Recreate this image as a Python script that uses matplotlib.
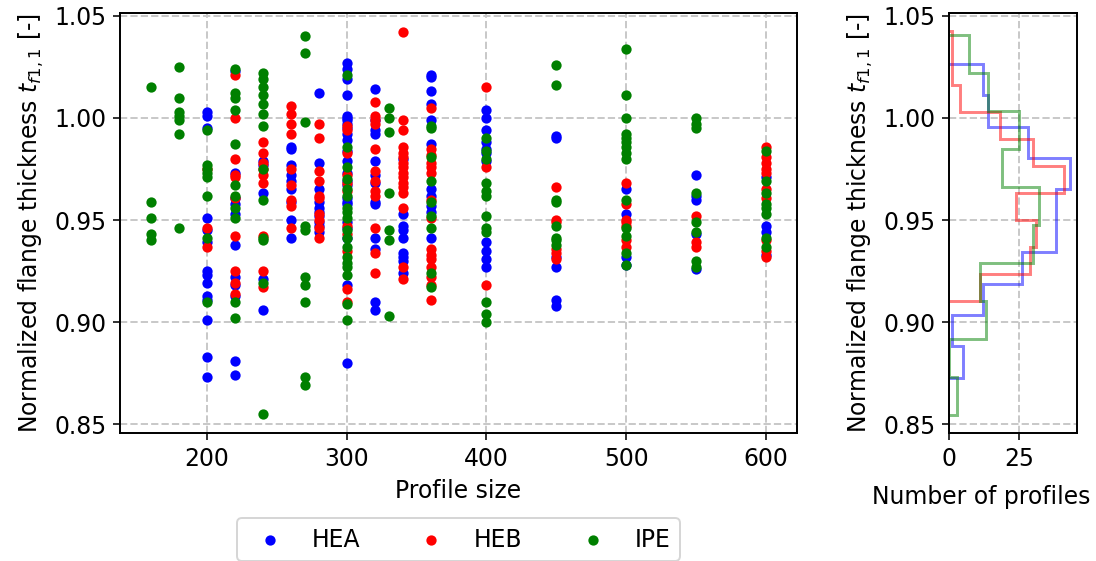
import numpy as np
import matplotlib
matplotlib.use('Agg')
import matplotlib.pyplot as plt

# profile sizes per series
hea_sizes = [200, 220, 240, 260, 280, 300, 320, 340, 360, 400, 450, 500, 550, 600]
heb_sizes = [200, 220, 240, 260, 280, 300, 320, 340, 360, 400, 450, 500, 550, 600]
ipe_sizes = [160, 180, 200, 220, 240, 270, 300, 330, 360, 400, 450, 500, 550, 600]

# normalized flange thickness, one list per profile size
hea_t = [
    [1.003, 1.001, 0.995, 0.951, 0.945, 0.939, 0.925, 0.923, 0.919, 0.913, 0.911, 0.901, 0.883, 0.873],
    [1.023, 0.973, 0.961, 0.958, 0.953, 0.938, 0.922, 0.918, 0.913, 0.881, 0.874],
    [0.979, 0.977, 0.963, 0.921, 0.906],
    [0.986, 0.985, 0.977, 0.972, 0.969, 0.965, 0.959, 0.950, 0.941],
    [1.012, 0.978, 0.965, 0.959, 0.956, 0.954, 0.952, 0.949, 0.947, 0.944],
    [1.027, 1.024, 1.019, 1.011, 1.001, 1.000, 0.999, 0.997, 0.995, 0.992, 0.989, 0.984, 0.979,
     0.973, 0.969, 0.967, 0.961, 0.959, 0.958, 0.949, 0.946, 0.941, 0.918, 0.880],
    [1.014, 0.999, 0.994, 0.992, 0.979, 0.972, 0.968, 0.959, 0.958, 0.941, 0.936, 0.910, 0.906],
    [0.980, 0.953, 0.947, 0.945, 0.941, 0.934, 0.932, 0.930, 0.924],
    [1.021, 1.020, 1.013, 1.007, 0.999, 0.987, 0.965, 0.962, 0.957, 0.954, 0.941],
    [1.004, 1.000, 0.994, 0.988, 0.985, 0.983, 0.979, 0.939, 0.935, 0.931, 0.927],
    [0.991, 0.990, 0.932, 0.927, 0.911, 0.908],
    [0.965, 0.953, 0.932, 0.928],
    [0.972, 0.962, 0.960, 0.943, 0.926],
    [0.971, 0.947, 0.944, 0.933],
]
heb_t = [
    [0.975, 0.946, 0.937],
    [1.021, 1.000, 0.980, 0.972, 0.971, 0.961, 0.942, 0.925, 0.919, 0.914],
    [0.988, 0.983, 0.978, 0.975, 0.972, 0.968, 0.942, 0.925, 0.917],
    [1.006, 1.002, 0.997, 0.992, 0.975, 0.967, 0.960, 0.957, 0.946],
    [0.997, 0.990, 0.974, 0.969, 0.962, 0.961, 0.953, 0.950, 0.946, 0.941],
    [0.996, 0.994, 0.983, 0.972, 0.968, 0.964, 0.947, 0.943, 0.935, 0.916, 0.910],
    [1.008, 1.001, 0.999, 0.997, 0.985, 0.974, 0.969, 0.964, 0.962, 0.946, 0.934, 0.924],
    [1.042, 0.999, 0.994, 0.986, 0.983, 0.981, 0.978, 0.976, 0.973, 0.971, 0.968, 0.966, 0.963,
     0.956, 0.927, 0.921],
    [1.005, 0.985, 0.982, 0.978, 0.976, 0.973, 0.960, 0.951, 0.936, 0.933, 0.931, 0.927, 0.922,
     0.918, 0.911],
    [1.015, 0.976, 0.918],
    [0.966, 0.950, 0.949, 0.936, 0.934, 0.931],
    [0.968, 0.958, 0.950, 0.949, 0.947, 0.940, 0.937],
    [0.952, 0.939, 0.937],
    [0.986, 0.981, 0.978, 0.975, 0.973, 0.965, 0.961, 0.940, 0.935, 0.932],
]
ipe_t = [
    [1.015, 0.959, 0.951, 0.943, 0.940],
    [1.025, 1.010, 1.003, 1.001, 0.999, 0.992, 0.946],
    [0.994, 0.977, 0.975, 0.973, 0.971, 0.962, 0.941, 0.910],
    [1.024, 1.012, 1.010, 1.004, 0.987, 0.967, 0.962, 0.956, 0.951, 0.910, 0.902],
    [1.022, 1.019, 1.015, 1.011, 1.007, 1.002, 0.996, 0.975, 0.960, 0.941, 0.940, 0.919, 0.855],
    [1.040, 1.032, 0.998, 0.947, 0.945, 0.922, 0.918, 0.910, 0.873, 0.869],
    [1.021, 0.986, 0.976, 0.970, 0.965, 0.962, 0.956, 0.954, 0.951, 0.945, 0.941, 0.937, 0.932,
     0.929, 0.927, 0.923, 0.909, 0.901],
    [1.005, 1.000, 0.993, 0.963, 0.945, 0.940, 0.903],
    [0.996, 0.995, 0.981, 0.969, 0.959, 0.952, 0.946, 0.924, 0.917],
    [0.990, 0.984, 0.980, 0.968, 0.964, 0.962, 0.952, 0.946, 0.944, 0.910, 0.904, 0.900],
    [1.026, 1.016, 0.960, 0.959, 0.947, 0.941, 0.940, 0.938],
    [1.034, 1.011, 1.000, 0.992, 0.990, 0.988, 0.986, 0.983, 0.980, 0.960, 0.946, 0.942, 0.934, 0.928],
    [1.000, 0.997, 0.995, 0.963, 0.949, 0.944, 0.930, 0.927],
    [0.984, 0.969, 0.963, 0.958, 0.956, 0.953, 0.941, 0.937],
]

# histogram bins and counts (number of profiles)
hea_edges = [0.8727, 0.8881, 0.9035, 0.9189, 0.9343, 0.9497, 0.9650, 0.9804, 0.9958, 1.0112, 1.0266]
hea_counts = [5, 1, 12, 26, 38, 38, 43, 28, 14, 12]
heb_edges = [0.9101, 0.9234, 0.9366, 0.9499, 0.9631, 0.9764, 0.9896, 1.0029, 1.0161, 1.0294, 1.0426]
heb_counts = [11, 29, 31, 24, 41, 30, 18, 4, 1, 1]
ipe_edges = [0.8544, 0.8730, 0.8916, 0.9102, 0.9288, 0.9475, 0.9661, 0.9847, 1.0033, 1.0219, 1.0405]
ipe_counts = [3, 0, 13, 11, 30, 32, 19, 25, 14, 7]


def flatten(sizes, values):
    x, y = [], []
    for s, vals in zip(sizes, values):
        x.extend([s] * len(vals))
        y.extend(vals)
    return np.array(x), np.array(y)


plt.rcParams['font.size'] = 12
fig = plt.figure(figsize=(1096 / 141, 561 / 141), dpi=141)
ax = fig.add_axes([0.1095, 0.2282, 0.6177, 0.7486])
axh = fig.add_axes([0.8659, 0.2282, 0.1168, 0.7486], sharey=ax)

series = [
    ('HEA', 'blue', hea_sizes, hea_t, hea_edges, hea_counts),
    ('HEB', 'red', heb_sizes, heb_t, heb_edges, heb_counts),
    ('IPE', 'green', ipe_sizes, ipe_t, ipe_edges, ipe_counts),
]

for name, color, sizes, vals, edges, counts in series:
    x, y = flatten(sizes, vals)
    ax.scatter(x, y, s=18, color=color, label=name, zorder=2)
    axh.stairs(counts, edges, orientation='horizontal', color=color, alpha=0.5,
               linewidth=1.5, baseline=0)

ylabel = 'Normalized flange thickness $t_{f1,1}$ [-]'
ax.set_xlabel('Profile size')
ax.set_ylabel(ylabel)
ax.grid(True, linestyle='--', color='#c8c8c8', linewidth=1.0, zorder=0)
ax.set_axisbelow(True)
ax.set_xticks([200, 300, 400, 500, 600])
ax.set_yticks([0.85, 0.90, 0.95, 1.00, 1.05])
ax.set_xlim(138, 622)
ax.set_ylim(0.8457, 1.0514)

axh.set_xlabel('Number of profiles')
axh.xaxis.set_label_coords(0.25, -0.125)
axh.set_ylabel(ylabel)
axh.tick_params(labelleft=True)
axh.set_xticks([0, 25])
axh.set_xlim(0, 45.6)
axh.grid(True, linestyle='--', color='#c8c8c8', linewidth=1.0)
axh.set_axisbelow(True)

for a in (ax, axh):
    for sp in a.spines.values():
        sp.set_linewidth(1.0)

ax.legend(loc='upper center', bbox_to_anchor=(0.5, -0.175), ncol=3)

fig.savefig('out.png', dpi=141)
